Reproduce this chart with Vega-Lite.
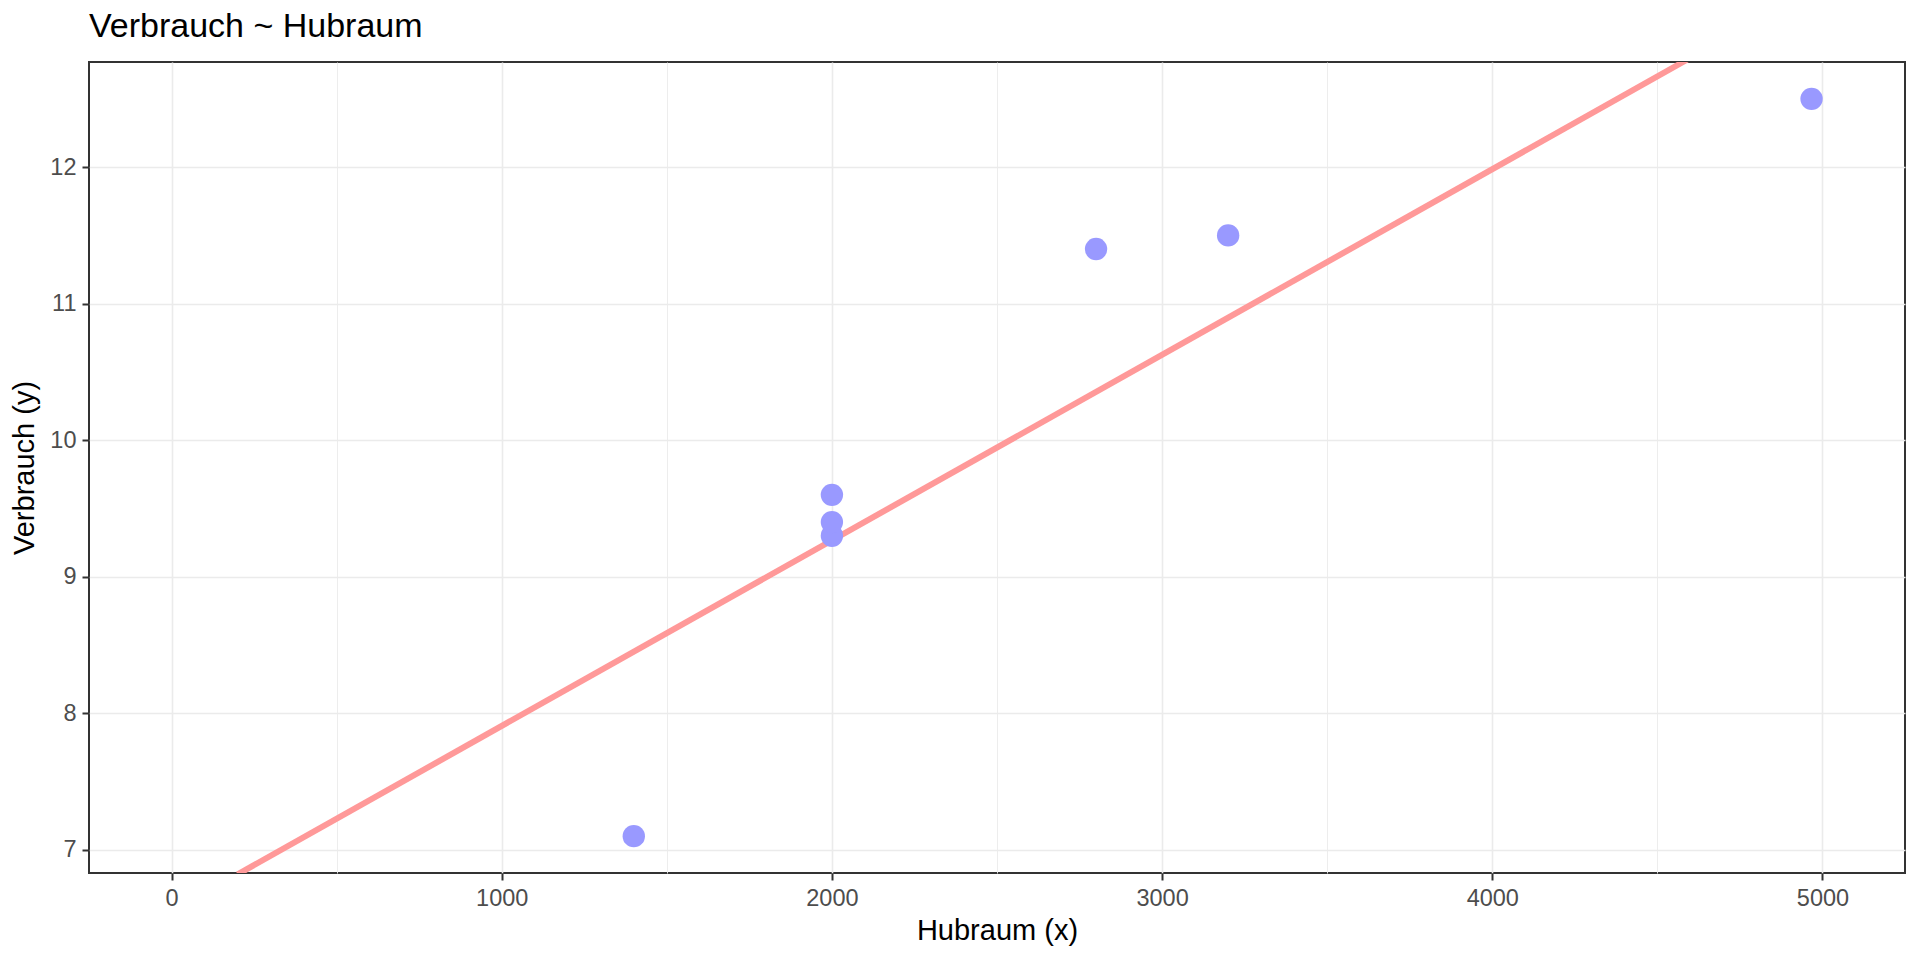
{
  "$schema": "https://vega.github.io/schema/vega-lite/v6.json",
  "autosize": "none",
  "width": 1816,
  "height": 811,
  "padding": {"left": 89, "top": 62, "right": 15, "bottom": 87},
  "background": "white",
  "title": {
    "text": "Verbrauch ~ Hubraum",
    "anchor": "start",
    "frame": "group",
    "font": "Liberation Sans",
    "fontSize": 34,
    "fontWeight": "normal",
    "color": "#000000",
    "baseline": "alphabetic",
    "offset": 21,
    "dy": 30
  },
  "config": {
    "view": {"stroke": "#333333", "strokeWidth": 2},
    "axis": {
      "domain": false,
      "gridColor": "#EBEBEB",
      "tickColor": "#333333",
      "tickWidth": 2,
      "tickSize": 7,
      "labelFont": "Liberation Sans",
      "labelFontSize": 23.5,
      "labelColor": "#4D4D4D",
      "titleFont": "Liberation Sans",
      "titleFontSize": 29,
      "titleFontWeight": "normal",
      "titleColor": "#000000"
    }
  },
  "data": {
    "values": [
      {"Hubraum": 1400, "Verbrauch": 7.1},
      {"Hubraum": 2000, "Verbrauch": 9.3},
      {"Hubraum": 2000, "Verbrauch": 9.4},
      {"Hubraum": 2000, "Verbrauch": 9.6},
      {"Hubraum": 2800, "Verbrauch": 11.4},
      {"Hubraum": 3200, "Verbrauch": 11.5},
      {"Hubraum": 4967, "Verbrauch": 12.5}
    ]
  },
  "layer": [
    {
      "transform": [
        {"regression": "Verbrauch", "on": "Hubraum", "extent": [200, 4590]}
      ],
      "mark": {"type": "line", "color": "#FF9999", "strokeWidth": 6, "clip": true},
      "encoding": {
        "x": {
          "field": "Hubraum",
          "type": "quantitative",
          "scale": {"domain": [-250, 5250], "nice": false, "zero": false},
          "axis": {
            "title": "Hubraum (x)",
            "format": "d",
            "values": [0, 500, 1000, 1500, 2000, 2500, 3000, 3500, 4000, 4500, 5000],
            "labelExpr": "datum.value % 1000 === 0 ? datum.label : ''",
            "tickOpacity": {"condition": {"test": "datum.value % 1000 === 0", "value": 1}, "value": 0},
            "gridWidth": {"condition": {"test": "datum.value % 1000 === 0", "value": 1.6}, "value": 0.9},
            "labelPadding": 6,
            "titlePadding": 7
          }
        },
        "y": {
          "field": "Verbrauch",
          "type": "quantitative",
          "scale": {"domain": [6.83, 12.77], "nice": false, "zero": false},
          "axis": {
            "title": "Verbrauch (y)",
            "format": "d",
            "values": [7, 7.5, 8, 8.5, 9, 9.5, 10, 10.5, 11, 11.5, 12, 12.5],
            "labelExpr": "datum.value % 1 === 0 ? datum.label : ''",
            "tickOpacity": {"condition": {"test": "datum.value % 1 === 0", "value": 1}, "value": 0},
            "gridWidth": {"condition": {"test": "datum.value % 1 === 0", "value": 1.6}, "value": 0.9},
            "labelPadding": 6,
            "titlePadding": 10
          }
        }
      }
    },
    {
      "mark": {"type": "circle", "color": "#9999FF", "opacity": 1, "size": 500},
      "encoding": {
        "x": {"field": "Hubraum", "type": "quantitative"},
        "y": {"field": "Verbrauch", "type": "quantitative"}
      }
    }
  ]
}
